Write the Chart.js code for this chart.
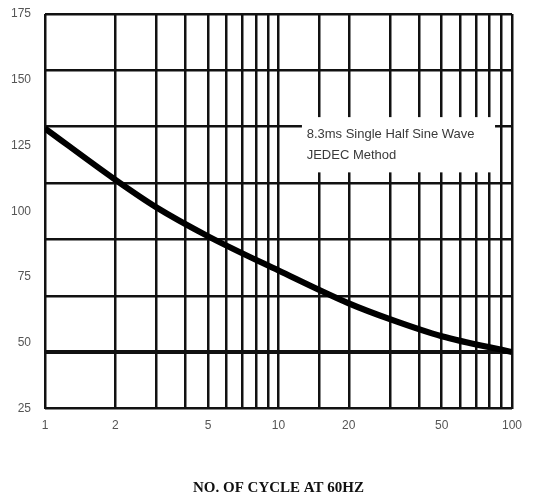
<!DOCTYPE html>
<html>
<head>
<meta charset="utf-8">
<script src="https://cdn.jsdelivr.net/npm/chart.js@4"></script>
<style>
  html, body { margin: 0; padding: 0; background: #fff; }
  #wrap { width: 542px; height: 502px; }
</style>
</head>
<body>
<div id="wrap"><canvas id="surgeChart"></canvas></div>
<script>
// surge current vs number of cycles
const cycles = [1, 2, 3, 5, 10, 20, 30, 50, 100];
const peakCurrent = [131.5, 112, 101.5, 90.5, 77.5, 65, 59, 52.5, 46.5];
const xLabels = [1, 2, 5, 10, 20, 50, 100];
const yTicks = [25, 50, 75, 100, 125, 150, 175];
const noteLines = ['8.3ms Single Half Sine Wave', 'JEDEC Method'];

// white box with the test note, drawn over the grid
const notePlugin = {
  id: 'note',
  afterDatasetsDraw(chart) {
    const { ctx, scales } = chart;
    const x = scales.x, y = scales.y;
    const left = x.getPixelForValue(12.6), right = x.getPixelForValue(84.6);
    const top = y.getPixelForValue(135.8), bottom = y.getPixelForValue(114.8);
    ctx.save();
    ctx.fillStyle = '#fff';
    ctx.fillRect(left, top, right - left, bottom - top);
    ctx.fillStyle = '#3a3a3a';
    ctx.font = '13px "Liberation Sans", Arial, sans-serif';
    ctx.textBaseline = 'middle';
    ctx.fillText(noteLines[0], x.getPixelForValue(13.2), y.getPixelForValue(129.3));
    ctx.fillText(noteLines[1], x.getPixelForValue(13.2), y.getPixelForValue(121.3));
    ctx.restore();
  }
};

const ctx = document.getElementById('surgeChart').getContext('2d');
new Chart(ctx, {
  type: 'line',
  data: {
    datasets: [{
      data: cycles.map((c, i) => ({ x: c, y: peakCurrent[i] })),
      borderColor: '#000',
      borderWidth: 6,
      pointRadius: 0,
      cubicInterpolationMode: 'monotone',
      fill: false
    }]
  },
  options: {
    responsive: true,
    maintainAspectRatio: false,
    animation: false,
    layout: { padding: { top: 14, right: 30, bottom: 1, left: 0 } },
    plugins: { legend: { display: false }, tooltip: { enabled: false } },
    scales: {
      x: {
        type: 'logarithmic',
        min: 1, max: 100,
        grid: { color: '#111', lineWidth: 2.5, drawTicks: false },
        border: { display: false },
        ticks: {
          autoSkip: false, maxRotation: 0, padding: 10,
          color: '#555',
          font: { family: '"Liberation Sans Narrow", "Liberation Sans", Arial', size: 12 },
          callback: v => xLabels.includes(v) ? String(v) : ''
        },
        title: {
          display: true,
          text: 'NO. OF CYCLE AT 60HZ',
          color: '#111',
          font: { family: '"Liberation Serif", "Times New Roman", serif', size: 15, weight: 'bold' },
          padding: { top: 36 }
        }
      },
      y: {
        min: 25, max: 175,
        grid: { display: false },
        border: { display: false },
        afterBuildTicks: s => { s.ticks = yTicks.map(v => ({ value: v })); },
        afterFit: s => { s.width = 45; },
        ticks: {
          padding: 6,
          color: '#555',
          font: { family: '"Liberation Sans Narrow", "Liberation Sans", Arial', size: 12 }
        }
      },
      grid7: {
        position: 'left',
        min: 0, max: 7,
        ticks: { display: false, stepSize: 1 },
        border: { display: false },
        afterFit: s => { s.width = 0; },
        grid: {
          color: '#111',
          drawTicks: false,
          lineWidth: c => c.tick && c.tick.value === 1 ? 4 : 2.5
        }
      }
    }
  },
  plugins: [notePlugin]
});
</script>
</body>
</html>
